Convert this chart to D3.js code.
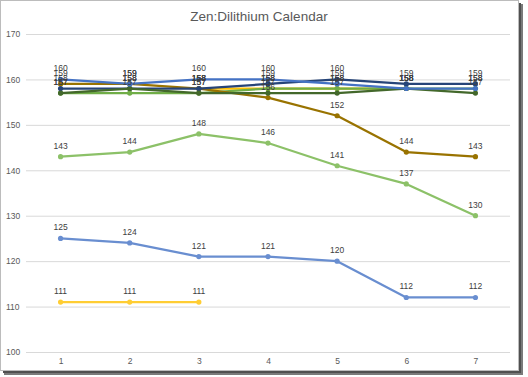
<!DOCTYPE html>
<html>
<head>
<meta charset="utf-8">
<script src="https://cdn.jsdelivr.net/npm/d3@7"></script>
<style>
  body { margin: 0; background: #fff; }
  svg { display: block; font-family: "Liberation Sans", Arial, sans-serif; }
</style>
</head>
<body>
<div id="chart"></div>
<script>
// categories and tick labels
var days = [1, 2, 3, 4, 5, 6, 7];
var yTicks = [100, 110, 120, 130, 140, 150, 160, 170];

// series values (null = no point)
var darkGold   = [159, 159, 158, 156, 152, 144, 143];
var blueTop    = [160, 159, 160, 160, 159, 158, 158];
var navy       = [158, 158, 158, 159, 160, 159, 159];
var darkGreen  = [157, 158, 157, 157, 157, 158, 157];
var greenTop   = [157, 157, 157, 158, 158, 158, 158];
var goldTop    = [null, null, 158, 158, 158, 158, null];
var greenLow   = [143, 144, 148, 146, 141, 137, 130];
var blueLow    = [125, 124, 121, 121, 120, 112, 112];
var goldLow    = [111, 111, 111, null, null, null, null];

var seriesList = [
  {values: goldTop,   color: "#ffc000"},
  {values: greenTop,  color: "#70ad47"},
  {values: darkGold,  color: "#997300"},
  {values: navy,      color: "#264478"},
  {values: darkGreen, color: "#43682b"},
  {values: blueTop,   color: "#4472c4"},
  {values: goldLow,   color: "#ffcd33"},
  {values: blueLow,   color: "#698ed0"},
  {values: greenLow,  color: "#8cc168"}
];

var W = 528, H = 377;
var svg = d3.select("#chart").append("svg")
    .attr("width", W)
    .attr("height", H);

// drop shadow + frame
svg.append("rect").attr("x", 4).attr("y", 4).attr("width", 519).attr("height", 371).attr("fill", "#7a7a7a");
svg.append("rect").attr("x", 3).attr("y", 3).attr("width", 518).attr("height", 370).attr("fill", "#505050");
svg.append("rect").attr("x", 0.5).attr("y", 0.5).attr("width", 518).attr("height", 370)
    .attr("fill", "#fff").attr("stroke", "#bcbcbc");

// scales
var x = d3.scalePoint().domain(days).range([26, 510]).padding(0.5);
var y = d3.scaleLinear().domain([100, 170]).range([352, 34]);

// title
svg.append("text")
    .attr("x", 259).attr("y", 21)
    .attr("text-anchor", "middle")
    .attr("font-size", 13.5)
    .attr("fill", "#595959")
    .text("Zen:Dilithium Calendar");

// gridlines
svg.append("g").selectAll("line")
    .data(yTicks)
  .enter().append("line")
    .attr("x1", 26).attr("x2", 510)
    .attr("y1", function(d) { return y(d) + 0.5; })
    .attr("y2", function(d) { return y(d) + 0.5; })
    .attr("stroke", "#d9d9d9").attr("stroke-width", 1);

// y axis labels
var yAxis = d3.axisLeft(y).tickValues(yTicks).tickSize(0).tickPadding(0);
var gy = svg.append("g").attr("transform", "translate(18,0)").call(yAxis);
gy.select(".domain").remove();
gy.selectAll("text").attr("font-size", 8.5).attr("fill", "#595959")
    .attr("text-anchor", "start").attr("x", -12);

// x axis labels
var xAxis = d3.axisBottom(x).tickSize(0).tickPadding(0);
var gx = svg.append("g").attr("transform", "translate(0,358)").call(xAxis);
gx.select(".domain").remove();
gx.selectAll("text").attr("font-size", 8.5).attr("fill", "#595959");

// lines
var line = d3.line()
    .defined(function(d) { return d.v != null; })
    .x(function(d) { return x(d.day); })
    .y(function(d) { return y(d.v); });

seriesList.forEach(function(s) {
  var pts = s.values.map(function(v, i) { return {day: days[i], v: v}; });
  var g = svg.append("g");
  g.append("path")
      .datum(pts)
      .attr("fill", "none")
      .attr("stroke", s.color)
      .attr("stroke-width", 2.25)
      .attr("stroke-linejoin", "round")
      .attr("d", line);
  var valid = pts.filter(function(d) { return d.v != null; });
  g.selectAll("circle")
      .data(valid)
    .enter().append("circle")
      .attr("cx", function(d) { return x(d.day); })
      .attr("cy", function(d) { return y(d.v); })
      .attr("r", 2.6)
      .attr("fill", s.color);
});

// data labels
seriesList.forEach(function(s) {
  var pts = s.values.map(function(v, i) { return {day: days[i], v: v}; })
      .filter(function(d) { return d.v != null; });
  svg.append("g").selectAll("text")
      .data(pts)
    .enter().append("text")
      .attr("x", function(d) { return x(d.day); })
      .attr("y", function(d) { return y(d.v) - 8; })
      .attr("text-anchor", "middle")
      .attr("font-size", 8.5)
      .attr("fill", "#404040")
      .text(function(d) { return d.v; });
});
</script>
</body>
</html>
